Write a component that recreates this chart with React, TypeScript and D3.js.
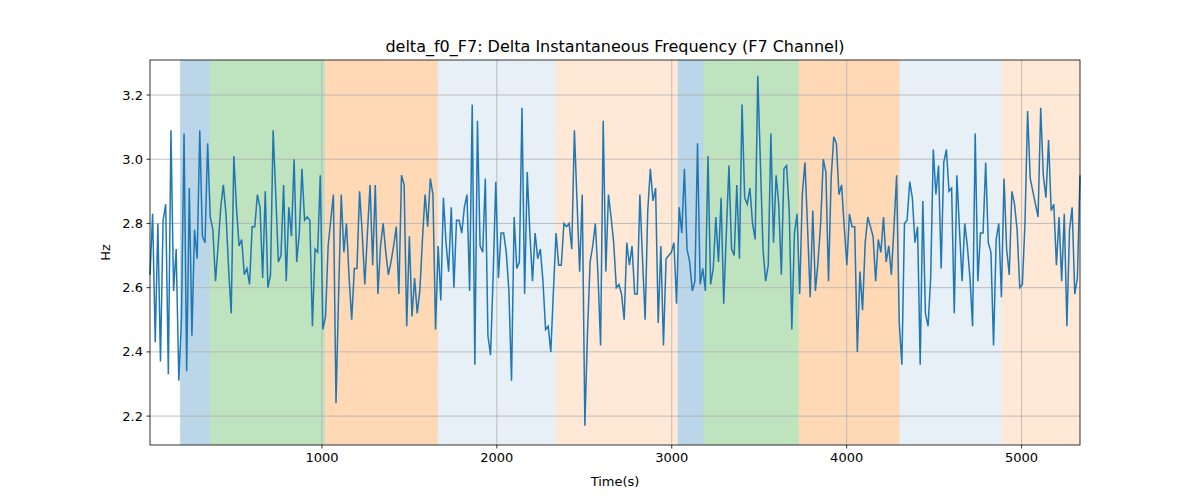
import * as d3 from "d3"

const values: number[] = [
  // 0 - 1000 s
  2.64, 2.83, 2.43, 2.80, 2.37, 2.81, 2.86, 2.33, 3.09, 2.59, 2.72, 2.31, 2.50, 3.08, 2.34, 2.91, 2.45, 2.78, 2.69, 3.09,
  2.76, 2.74, 3.05, 2.82, 2.78, 2.62, 2.73, 2.85, 2.92, 2.83, 2.66, 2.52, 3.01, 2.85, 2.73, 2.75, 2.64, 2.66, 2.61, 2.79,
  2.79, 2.89, 2.85, 2.63, 2.90, 2.60, 2.64, 3.09, 2.89, 2.68, 2.70, 2.92, 2.62, 2.85, 2.76, 3.00, 2.68, 2.77, 2.97, 2.81,
  // 1000 - 1900 s
  2.82, 2.81, 2.48, 2.72, 2.71, 2.95, 2.47, 2.51, 2.73, 2.81, 2.89, 2.24, 2.58, 2.89, 2.71, 2.80, 2.63, 2.50, 2.66, 2.66,
  2.90, 2.77, 2.61, 2.77, 2.92, 2.67, 2.92, 2.58, 2.73, 2.80, 2.71, 2.64, 2.68, 2.73, 2.79, 2.58, 2.95, 2.92, 2.48, 2.76,
  2.51, 2.63, 2.52, 2.59, 2.75, 2.89, 2.79, 2.94, 2.89, 2.47, 2.73, 2.56, 2.88, 2.74, 2.65, 2.85, 2.60, 2.81, 2.81, 2.77,
  // 1900 - 2800 s
  2.85, 2.89, 2.59, 3.17, 2.36, 3.12, 2.73, 2.71, 2.94, 2.45, 2.39, 2.64, 2.93, 2.63, 2.77, 2.77, 2.71, 2.59, 2.31, 2.82,
  2.66, 2.68, 3.16, 2.58, 2.96, 2.77, 2.62, 2.77, 2.69, 2.72, 2.62, 2.47, 2.48, 2.40, 2.59, 2.77, 2.67, 2.67, 2.80, 2.79,
  2.80, 2.72, 3.09, 2.87, 2.65, 2.89, 2.17, 2.46, 2.68, 2.73, 2.80, 2.64, 2.42, 3.12, 2.65, 2.89, 2.82, 2.74, 2.60,
  // 2800 - 3700 s
  2.61, 2.58, 2.50, 2.74, 2.67, 2.73, 2.58, 2.58, 2.89, 2.69, 2.50, 2.84, 2.97, 2.87, 2.91, 2.49, 2.73, 2.42, 2.69, 2.70,
  2.71, 2.74, 2.55, 2.85, 2.77, 2.97, 2.72, 2.68, 2.59, 2.62, 3.05, 2.61, 2.66, 2.59, 3.01, 2.61, 2.66, 2.82, 2.68, 2.88,
  2.55, 2.77, 2.98, 2.72, 2.70, 2.92, 2.69, 3.17, 2.88, 2.86, 2.91, 2.80, 2.75, 3.26, 2.99, 2.72, 2.62, 2.67, 3.08, 2.74,
  // 3700 - 4600 s
  2.95, 2.86, 2.64, 2.97, 2.98, 2.84, 2.47, 2.77, 2.83, 2.58, 2.89, 2.99, 2.79, 2.57, 2.84, 2.59, 2.68, 2.80, 3.00, 2.96,
  2.62, 2.94, 3.07, 3.05, 2.89, 2.92, 2.79, 2.67, 2.83, 2.79, 2.79, 2.40, 2.65, 2.53, 2.74, 2.82, 2.79, 2.76, 2.62, 2.75,
  2.71, 2.82, 2.68, 2.73, 2.64, 2.79, 2.95, 2.49, 2.36, 2.80, 2.81, 2.93, 2.88, 2.74, 2.79, 2.36, 2.87, 2.52, 2.48,
  // 4600 - 5330 s
  2.63, 3.03, 2.89, 2.98, 2.66, 2.99, 3.03, 2.90, 2.91, 2.52, 2.95, 2.78, 2.62, 2.80, 2.73, 2.63, 2.48, 3.08, 2.62, 2.77,
  2.77, 2.99, 2.74, 2.71, 2.42, 2.75, 2.80, 2.57, 2.94, 2.72, 2.64, 2.90, 2.86, 2.78, 2.60, 2.61, 2.80, 3.15, 2.94, 2.90,
  2.86, 2.82, 3.16, 2.95, 2.88, 3.06, 2.84, 2.86, 2.67, 2.82, 2.62, 2.83, 2.48, 2.78, 2.85, 2.58, 2.63, 2.95,
]

const tStart = 17
const tEnd = 5334

// shaded segments: [start, end, colour, opacity]
const spanStarts = [189, 360, 1017, 1663, 2337, 3034, 3183, 3726, 4303, 4886]
const spanEnds = [360, 1017, 1663, 2337, 3034, 3183, 3726, 4303, 4886, 5334]
const spanColors = ["#1f77b4", "#2ca02c", "#ff7f0e", "#1f77b4", "#ff7f0e", "#1f77b4", "#2ca02c", "#ff7f0e", "#1f77b4", "#ff7f0e"]
const spanAlphas = [0.3, 0.3, 0.3, 0.115, 0.17, 0.3, 0.3, 0.3, 0.115, 0.17]

const xTicks = [1000, 2000, 3000, 4000, 5000]
const yTicks = [2.2, 2.4, 2.6, 2.8, 3.0, 3.2]

export default function App() {
  const W = 1200
  const H = 500
  const m = { top: 60, right: 120, bottom: 55, left: 150 }
  const iw = W - m.left - m.right
  const ih = H - m.top - m.bottom

  const step = (tEnd - tStart) / (values.length - 1)
  const pts = values.map((v, i) => ({ t: tStart + i * step, v }))

  const x = d3.scaleLinear().domain([tStart, tEnd]).range([0, iw])
  const y = d3.scaleLinear().domain([2.11, 3.309]).range([ih, 0])
  const line = d3.line<{ t: number; v: number }>().x((d) => x(d.t)).y((d) => y(d.v))

  const font = "DejaVu Sans, sans-serif"

  return (
    <svg width={W} height={H} style={{ position: "absolute", left: 0, top: 0, background: "#fff" }} fontFamily={font}>
      <g transform={`translate(${m.left},${m.top})`}>
        {spanStarts.map((s, i) => (
          <rect key={i} x={x(s)} y={0} width={x(spanEnds[i]) - x(s)} height={ih} fill={spanColors[i]} fillOpacity={spanAlphas[i]} />
        ))}
        {xTicks.map((t) => (
          <line key={t} x1={x(t)} x2={x(t)} y1={0} y2={ih} stroke="#b0b0b0" strokeWidth={0.8} />
        ))}
        {yTicks.map((t) => (
          <line key={t} x1={0} x2={iw} y1={y(t)} y2={y(t)} stroke="#b0b0b0" strokeWidth={0.8} />
        ))}
        <path d={line(pts) || ""} fill="none" stroke="#1f77b4" strokeWidth={1.5} />
        <rect x={0} y={0} width={iw} height={ih} fill="none" stroke="#000" strokeWidth={0.8} />
        {xTicks.map((t) => (
          <g key={t} transform={`translate(${x(t)},${ih})`}>
            <line y2={3.5} stroke="#000" strokeWidth={0.8} />
            <text y={17} textAnchor="middle" fontSize={13}>{t}</text>
          </g>
        ))}
        {yTicks.map((t) => (
          <g key={t} transform={`translate(0,${y(t)})`}>
            <line x2={-3.5} stroke="#000" strokeWidth={0.8} />
            <text x={-7} dy="0.35em" textAnchor="end" fontSize={13}>{t.toFixed(1)}</text>
          </g>
        ))}
        <text x={iw / 2} y={ih + 41} textAnchor="middle" fontSize={13}>Time(s)</text>
        <text transform={`translate(${-40},${ih / 2}) rotate(-90)`} textAnchor="middle" fontSize={13}>Hz</text>
        <text x={iw / 2} y={-8} textAnchor="middle" fontSize={16}>delta_f0_F7: Delta Instantaneous Frequency (F7 Channel)</text>
      </g>
    </svg>
  )
}
